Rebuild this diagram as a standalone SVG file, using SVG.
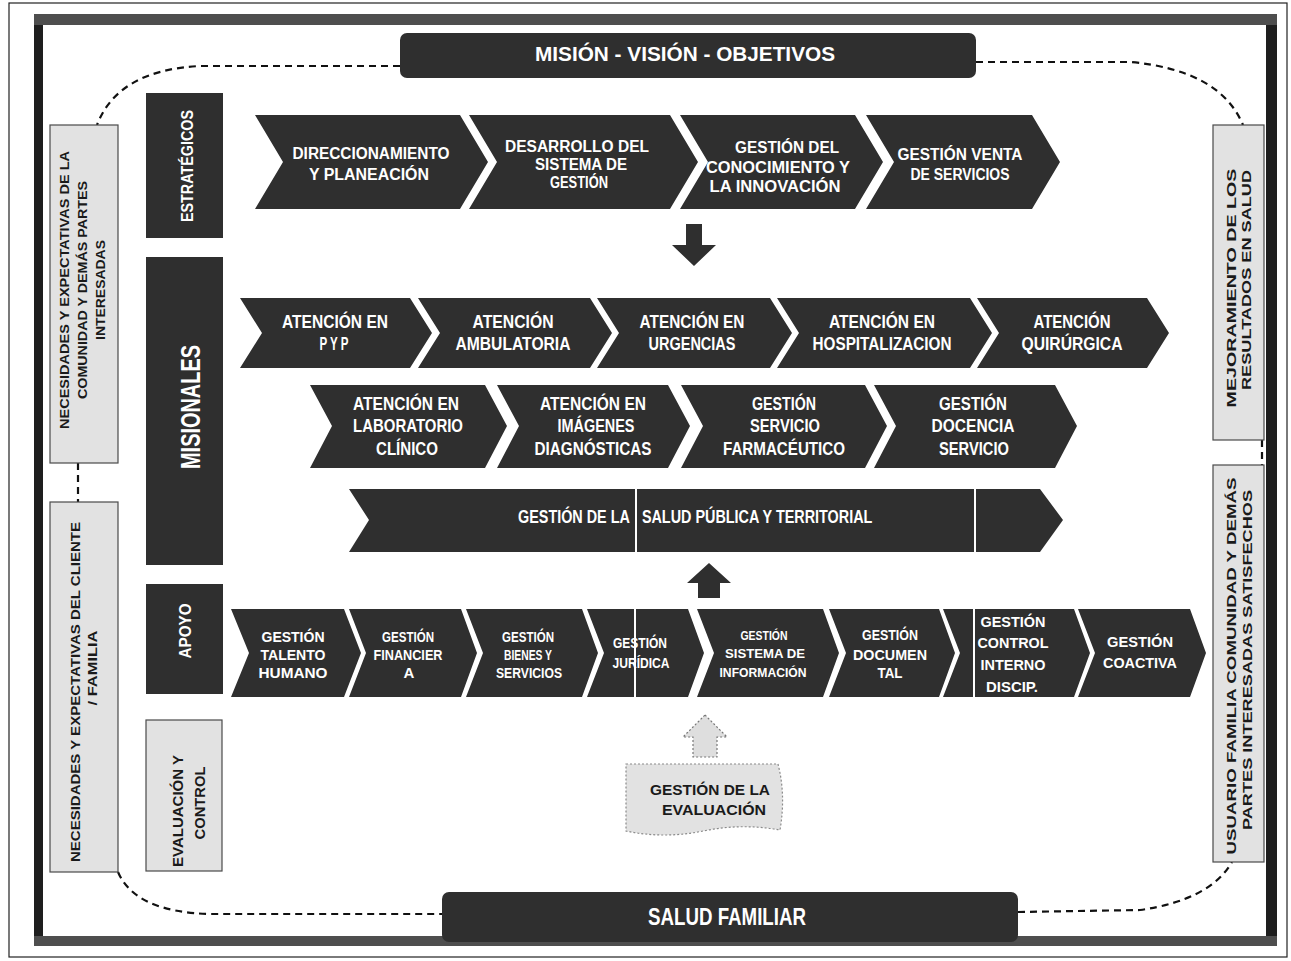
<svg xmlns="http://www.w3.org/2000/svg" width="1291" height="961" viewBox="0 0 1291 961">
<style>
.dk{fill:#2f2f2f}
.lt{fill:#e2e2e2;stroke:#4a4a4a;stroke-width:1.2}
.t{font-family:"Liberation Sans",Arial,sans-serif;font-weight:bold;fill:#fff;text-anchor:middle}
.tb{font-family:"Liberation Sans",Arial,sans-serif;font-weight:bold;fill:#1a1a1a;text-anchor:middle}
.s16{font-size:16px}.s18{font-size:18px}.s15{font-size:15px}.s12{font-size:12px}.s13{font-size:13px}
.d{fill:none;stroke:#111;stroke-width:2.2;stroke-dasharray:7 5}
.sep{stroke:#fff;stroke-width:2}
</style>
<rect width="1291" height="961" fill="#fff"/>
<rect x="9" y="3" width="1278" height="954" fill="none" stroke="#222" stroke-width="1.2"/>
<path d="M34 14H1277V946H34Z M43 25V936H1266V25Z" fill="#1e1e1e" fill-rule="evenodd"/>
<rect x="34" y="14" width="1243" height="11" fill="#4e4e4e"/>
<rect x="34" y="936" width="1243" height="10" fill="#4e4e4e"/>

<g id="connectors">
<path class="d" d="M400 66 L200 66 Q118 70 97 125"/>
<path class="d" d="M976 62 L1130 62 Q1220 70 1243 125"/>
<path class="d" d="M118 872 Q135 912 210 914 L442 914"/>
<path class="d" d="M1018 912 L1140 910 Q1210 900 1232 862"/>
<path class="d" d="M78 463 V502"/>
<path class="d" d="M1262 440 V465"/>
<polygon id="arrow-down" class="dk" points="686,224 702,224 702,245 716,245 694,266 672,245 686,245"/>
<polygon id="arrow-up" class="dk" points="709,563 731,583 720,583 720,598 698,598 698,583 687,583"/>
<polygon id="arrow-eval" points="705,715 727,737 717,737 717,757 693,757 693,737 683,737" fill="#dedede" stroke="#777" stroke-width="1.2" stroke-dasharray="2 2"/>
</g>

<g id="mision">
<rect x="400" y="33" width="576" height="45" rx="7" class="dk"/>
<text class="t" x="685" y="61" font-size="21" textLength="300" lengthAdjust="spacingAndGlyphs">MISIÓN - VISIÓN - OBJETIVOS</text>
</g>
<g id="salud-familiar">
<rect x="442" y="892" width="576" height="50" rx="7" class="dk"/>
<text class="t" x="727" y="925" font-size="24" textLength="158" lengthAdjust="spacingAndGlyphs">SALUD FAMILIAR</text>
</g>

<g id="side-lt">
<rect x="50" y="125" width="68" height="338" class="lt"/>
<text class="tb s13" transform="translate(69,290) rotate(-90)" textLength="278" lengthAdjust="spacingAndGlyphs">NECESIDADES Y EXPECTATIVAS DE LA</text>
<text class="tb s13" transform="translate(87,290) rotate(-90)" textLength="218" lengthAdjust="spacingAndGlyphs">COMUNIDAD Y DEMÁS PARTES</text>
<text class="tb s13" transform="translate(105,290) rotate(-90)" textLength="100" lengthAdjust="spacingAndGlyphs">INTERESADAS</text>
</g>
<g id="side-lb">
<rect x="50" y="502" width="68" height="370" class="lt"/>
<text class="tb s13" transform="translate(80,692) rotate(-90)" textLength="340" lengthAdjust="spacingAndGlyphs">NECESIDADES Y EXPECTATIVAS DEL CLIENTE</text>
<text class="tb s13" transform="translate(97,668) rotate(-90)" textLength="75" lengthAdjust="spacingAndGlyphs">/ FAMILIA</text>
</g>
<g id="side-rt">
<rect x="1213" y="125" width="51" height="315" class="lt"/>
<text class="tb s13" transform="translate(1236,288) rotate(-90)" textLength="239" lengthAdjust="spacingAndGlyphs">MEJORAMIENTO DE LOS</text>
<text class="tb s13" transform="translate(1251,280) rotate(-90)" textLength="220" lengthAdjust="spacingAndGlyphs">RESULTADOS EN SALUD</text>
</g>
<g id="side-rb">
<rect x="1213" y="465" width="51" height="397" class="lt"/>
<text class="tb s13" transform="translate(1236,666) rotate(-90)" textLength="377" lengthAdjust="spacingAndGlyphs">USUARIO FAMILIA COMUNIDAD Y DEMÁS</text>
<text class="tb s13" transform="translate(1252,660) rotate(-90)" textLength="340" lengthAdjust="spacingAndGlyphs">PARTES INTERESADAS SATISFECHOS</text>
</g>

<g id="cat-estrategicos">
<rect x="146" y="93" width="77" height="145" class="dk"/>
<text class="t" font-size="17" transform="translate(193,166) rotate(-90)" textLength="112" lengthAdjust="spacingAndGlyphs">ESTRATÉGICOS</text>
</g>
<g id="cat-misionales">
<rect x="146" y="257" width="77" height="308" class="dk"/>
<text class="t" font-size="28" transform="translate(200,407) rotate(-90)" textLength="124" lengthAdjust="spacingAndGlyphs">MISIONALES</text>
</g>
<g id="cat-apoyo">
<rect x="146" y="584" width="77" height="110" class="dk"/>
<text class="t s16" transform="translate(191,631) rotate(-90)" textLength="55" lengthAdjust="spacingAndGlyphs">APOYO</text>
</g>
<g id="cat-evaluacion">
<rect x="146" y="720" width="76" height="151" class="lt"/>
<text class="tb s15" transform="translate(183,811) rotate(-90)" textLength="112" lengthAdjust="spacingAndGlyphs">EVALUACIÓN Y</text>
<text class="tb s15" transform="translate(205,803) rotate(-90)" textLength="73" lengthAdjust="spacingAndGlyphs">CONTROL</text>
</g>

<g id="e1"><polygon class="dk" points="255,115 460,115 488,162 460,209 255,209 283,162"/>
<text class="t s16" x="371" y="159" textLength="157" lengthAdjust="spacingAndGlyphs">DIRECCIONAMIENTO</text>
<text class="t s16" x="369" y="180" textLength="120" lengthAdjust="spacingAndGlyphs">Y PLANEACIÓN</text></g>
<g id="e2"><polygon class="dk" points="469,115 670,115 698,162 670,209 469,209 497,162"/>
<text class="t s16" x="577" y="152" textLength="144" lengthAdjust="spacingAndGlyphs">DESARROLLO DEL</text>
<text class="t s16" x="581" y="170" textLength="92" lengthAdjust="spacingAndGlyphs">SISTEMA DE</text>
<text class="t s16" x="579" y="188" textLength="58" lengthAdjust="spacingAndGlyphs">GESTIÓN</text></g>
<g id="e3"><polygon class="dk" points="680,115 855,115 883,162 855,209 680,209 708,162"/>
<text class="t s16" x="787" y="153" textLength="104" lengthAdjust="spacingAndGlyphs">GESTIÓN DEL</text>
<text class="t s16" x="778" y="173" textLength="144" lengthAdjust="spacingAndGlyphs">CONOCIMIENTO Y</text>
<text class="t s16" x="775" y="192" textLength="131" lengthAdjust="spacingAndGlyphs">LA INNOVACIÓN</text></g>
<g id="e4"><polygon class="dk" points="866,115 1032,115 1060,162 1032,209 866,209 894,162"/>
<text class="t s16" x="960" y="160" textLength="125" lengthAdjust="spacingAndGlyphs">GESTIÓN VENTA</text>
<text class="t s16" x="960" y="180" textLength="99" lengthAdjust="spacingAndGlyphs">DE SERVICIOS</text></g>

<g id="m1"><polygon class="dk" points="240,298 410,298 432,333 410,368 240,368 262,333"/>
<text class="t s18" x="335" y="328" textLength="106" lengthAdjust="spacingAndGlyphs">ATENCIÓN EN</text>
<text class="t s18" x="334" y="350" textLength="29" lengthAdjust="spacingAndGlyphs">P Y P</text></g>
<g id="m2"><polygon class="dk" points="418,298 590,298 612,333 590,368 418,368 440,333"/>
<text class="t s18" x="513" y="328" textLength="81" lengthAdjust="spacingAndGlyphs">ATENCIÓN</text>
<text class="t s18" x="513" y="350" textLength="115" lengthAdjust="spacingAndGlyphs">AMBULATORIA</text></g>
<g id="m3"><polygon class="dk" points="597,298 770,298 792,333 770,368 597,368 619,333"/>
<text class="t s18" x="692" y="328" textLength="105" lengthAdjust="spacingAndGlyphs">ATENCIÓN EN</text>
<text class="t s18" x="692" y="350" textLength="87" lengthAdjust="spacingAndGlyphs">URGENCIAS</text></g>
<g id="m4"><polygon class="dk" points="777,298 970,298 992,333 970,368 777,368 799,333"/>
<text class="t s18" x="882" y="328" textLength="106" lengthAdjust="spacingAndGlyphs">ATENCIÓN EN</text>
<text class="t s18" x="882" y="350" textLength="139" lengthAdjust="spacingAndGlyphs">HOSPITALIZACION</text></g>
<g id="m5"><polygon class="dk" points="977,298 1147,298 1169,333 1147,368 977,368 999,333"/>
<text class="t s18" x="1072" y="328" textLength="77" lengthAdjust="spacingAndGlyphs">ATENCIÓN</text>
<text class="t s18" x="1072" y="350" textLength="101" lengthAdjust="spacingAndGlyphs">QUIRÚRGICA</text></g>

<g id="n1"><polygon class="dk" points="310,385 485,385 507,426 485,468 310,468 332,426"/>
<text class="t s18" x="406" y="410" textLength="106" lengthAdjust="spacingAndGlyphs">ATENCIÓN EN</text>
<text class="t s18" x="408" y="432" textLength="110" lengthAdjust="spacingAndGlyphs">LABORATORIO</text>
<text class="t s18" x="407" y="455" textLength="62" lengthAdjust="spacingAndGlyphs">CLÍNICO</text></g>
<g id="n2"><polygon class="dk" points="497,385 668,385 690,426 668,468 497,468 519,426"/>
<text class="t s18" x="593" y="410" textLength="106" lengthAdjust="spacingAndGlyphs">ATENCIÓN EN</text>
<text class="t s18" x="596" y="432" textLength="77" lengthAdjust="spacingAndGlyphs">IMÁGENES</text>
<text class="t s18" x="593" y="455" textLength="117" lengthAdjust="spacingAndGlyphs">DIAGNÓSTICAS</text></g>
<g id="n3"><polygon class="dk" points="681,385 865,385 887,426 865,468 681,468 703,426"/>
<text class="t s18" x="784" y="410" textLength="64" lengthAdjust="spacingAndGlyphs">GESTIÓN</text>
<text class="t s18" x="785" y="432" textLength="70" lengthAdjust="spacingAndGlyphs">SERVICIO</text>
<text class="t s18" x="784" y="455" textLength="122" lengthAdjust="spacingAndGlyphs">FARMACÉUTICO</text></g>
<g id="n4"><polygon class="dk" points="874,385 1055,385 1077,426 1055,468 874,468 896,426"/>
<text class="t s18" x="973" y="410" textLength="68" lengthAdjust="spacingAndGlyphs">GESTIÓN</text>
<text class="t s18" x="973" y="432" textLength="83" lengthAdjust="spacingAndGlyphs">DOCENCIA</text>
<text class="t s18" x="974" y="455" textLength="70" lengthAdjust="spacingAndGlyphs">SERVICIO</text></g>

<g id="salud-publica"><polygon class="dk" points="349,489 1040,489 1063,520 1040,552 349,552 369,520"/>
<line class="sep" x1="636" y1="489" x2="636" y2="552"/><line class="sep" x1="975" y1="489" x2="975" y2="552"/>
<text class="t s18" transform="translate(518,523) scale(0.8,1)" style="text-anchor:start">GESTIÓN DE LA<tspan dx="15">SALUD PÚBLICA Y TERRITORIAL</tspan></text></g>

<g id="a1"><polygon class="dk" points="231,609 344,609 361,653 344,697 231,697 249,653"/>
<text class="t s15" x="293" y="642" textLength="63" lengthAdjust="spacingAndGlyphs">GESTIÓN</text>
<text class="t s15" x="293" y="660" textLength="65" lengthAdjust="spacingAndGlyphs">TALENTO</text>
<text class="t s15" x="293" y="678" textLength="69" lengthAdjust="spacingAndGlyphs">HUMANO</text></g>
<g id="a2"><polygon class="dk" points="349,609 461,609 477,653 461,697 349,697 366,653"/>
<text class="t s15" x="408" y="642" textLength="52" lengthAdjust="spacingAndGlyphs">GESTIÓN</text>
<text class="t s15" x="408" y="660" textLength="69" lengthAdjust="spacingAndGlyphs">FINANCIER</text>
<text class="t s15" x="409" y="678">A</text></g>
<g id="a3"><polygon class="dk" points="466,609 582,609 598,653 582,697 466,697 483,653"/>
<text class="t s15" x="528" y="642" textLength="52" lengthAdjust="spacingAndGlyphs">GESTIÓN</text>
<text class="t s15" x="528" y="660" textLength="48" lengthAdjust="spacingAndGlyphs">BIENES Y</text>
<text class="t s15" x="529" y="678" textLength="66" lengthAdjust="spacingAndGlyphs">SERVICIOS</text></g>
<g id="a4"><polygon class="dk" points="587,609 688,609 704,653 688,697 587,697 604,653"/>
<line class="sep" x1="635" y1="609" x2="635" y2="697"/>
<text class="t s15" x="640" y="648" textLength="54" lengthAdjust="spacingAndGlyphs">GESTIÓN</text>
<text class="t s15" x="641" y="668" textLength="57" lengthAdjust="spacingAndGlyphs">JURÍDICA</text></g>
<g id="a5"><polygon class="dk" points="697,609 823,609 839,653 823,697 697,697 714,653"/>
<text class="t s12" x="764" y="640" textLength="47" lengthAdjust="spacingAndGlyphs">GESTIÓN</text>
<text class="t s12" x="765" y="658" textLength="80" lengthAdjust="spacingAndGlyphs">SISTEMA DE</text>
<text class="t s12" x="763" y="677" textLength="87" lengthAdjust="spacingAndGlyphs">INFORMACIÓN</text></g>
<g id="a6"><polygon class="dk" points="829,609 939,609 955,653 939,697 829,697 846,653"/>
<text class="t s15" x="890" y="640" textLength="56" lengthAdjust="spacingAndGlyphs">GESTIÓN</text>
<text class="t s15" x="890" y="660" textLength="74" lengthAdjust="spacingAndGlyphs">DOCUMEN</text>
<text class="t s15" x="890" y="678" textLength="25" lengthAdjust="spacingAndGlyphs">TAL</text></g>
<g id="a7"><polygon class="dk" points="943,609 1074,609 1090,653 1074,697 943,697 960,653"/>
<line class="sep" x1="974" y1="609" x2="974" y2="697"/>
<text class="t s15" x="1013" y="627" textLength="65" lengthAdjust="spacingAndGlyphs">GESTIÓN</text>
<text class="t s15" x="1013" y="648" textLength="71" lengthAdjust="spacingAndGlyphs">CONTROL</text>
<text class="t s15" x="1013" y="670" textLength="65" lengthAdjust="spacingAndGlyphs">INTERNO</text>
<text class="t s15" x="1012" y="692" textLength="52" lengthAdjust="spacingAndGlyphs">DISCIP.</text></g>
<g id="a8"><polygon class="dk" points="1078,609 1190,609 1206,653 1190,697 1078,697 1095,653"/>
<text class="t s15" x="1140" y="647" textLength="66" lengthAdjust="spacingAndGlyphs">GESTIÓN</text>
<text class="t s15" x="1140" y="668" textLength="74" lengthAdjust="spacingAndGlyphs">COACTIVA</text></g>

<g id="evaluacion">
<path d="M626 764 L778 764 Q786 795 780 830 Q742 823 703 831 Q664 839 626 831 Z" fill="#e2e2e2" stroke="#8a8a8a" stroke-width="1.2" stroke-dasharray="2 2"/>
<text class="tb s15" x="710" y="795" textLength="120" lengthAdjust="spacingAndGlyphs">GESTIÓN DE LA</text>
<text class="tb s15" x="714" y="815" textLength="104" lengthAdjust="spacingAndGlyphs">EVALUACIÓN</text>
</g>
</svg>
